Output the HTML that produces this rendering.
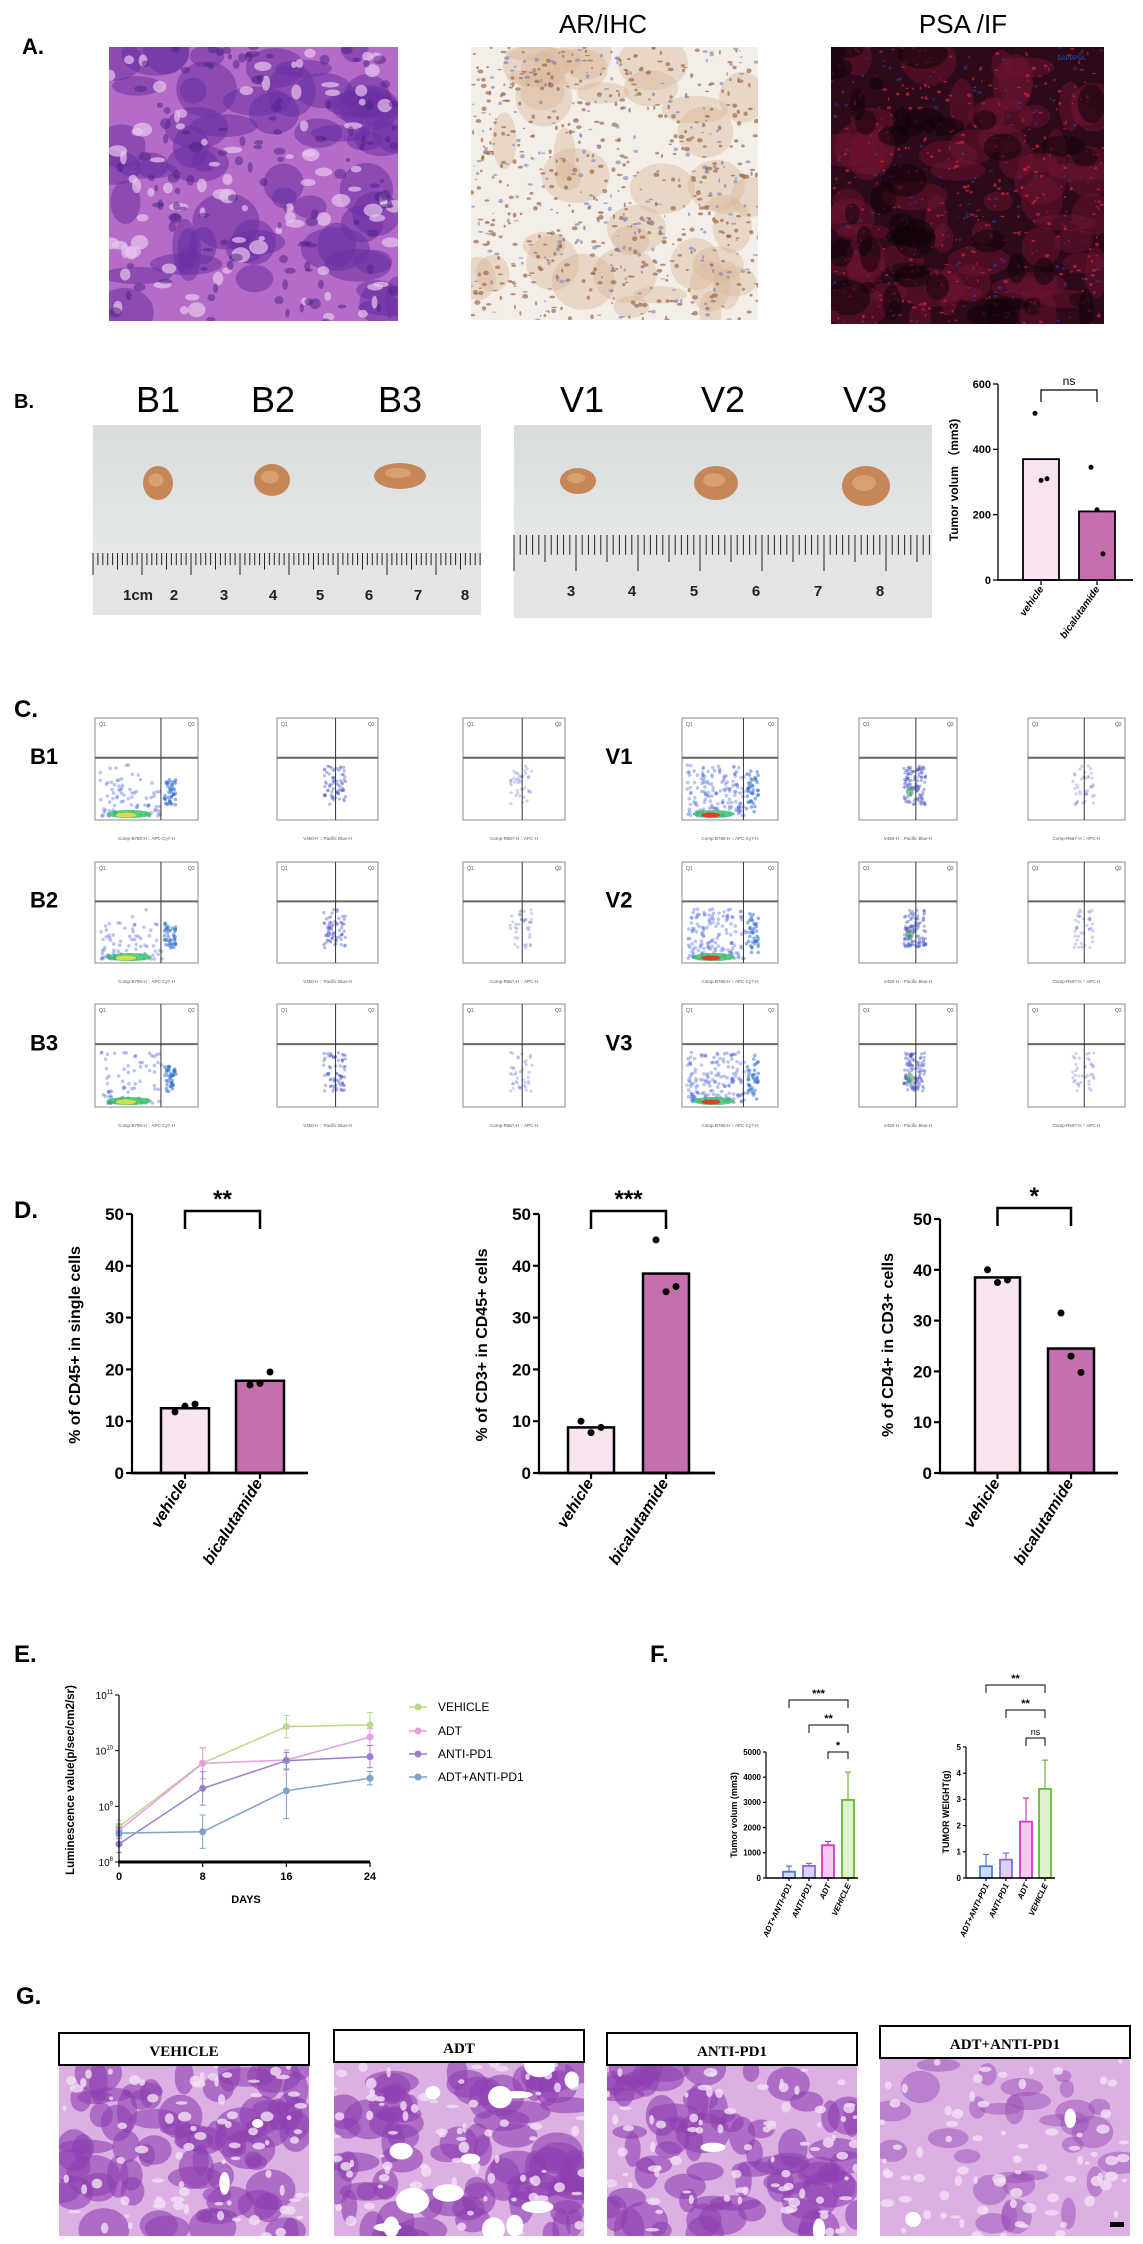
<!DOCTYPE html>
<html><head><meta charset="utf-8">
<style>
html,body{margin:0;padding:0;background:#fff;}
svg{display:block;}
text{font-family:"Liberation Sans",sans-serif;}
.nar{font-family:"Liberation Sans Narrow","Liberation Sans",sans-serif;}
.ser{font-family:"Liberation Serif",serif;}
</style></head>
<body>
<svg id="fig" width="1143" height="2244" viewBox="0 0 1143 2244" xmlns="http://www.w3.org/2000/svg">
<defs>
<linearGradient id="photoBg" x1="0" y1="0" x2="0" y2="1"><stop offset="0" stop-color="#d9dcdd"/><stop offset="1" stop-color="#eceeee"/></linearGradient>
</defs>
<!-- panel labels -->
<text x="22" y="54" font-size="22" font-weight="bold">A.</text>
<text x="14" y="408" font-size="20" font-weight="bold">B.</text>
<text x="14" y="717" font-size="24" font-weight="bold">C.</text>
<text x="14" y="1218" font-size="24" font-weight="bold">D.</text>
<text x="14" y="1662" font-size="24" font-weight="bold">E.</text>
<text x="650" y="1662" font-size="24" font-weight="bold">F.</text>
<text x="16" y="2004" font-size="24" font-weight="bold">G.</text>
<text x="603" y="33" font-size="26" text-anchor="middle" class="nar">AR/IHC</text>
<text x="963" y="33" font-size="26" text-anchor="middle" class="nar">PSA /IF</text>
<g id="layer"></g>
</svg>
<script>
// ---------- chart data ----------
const bCats = ["vehicle","bicalutamide"];
const bBars = [370, 210];
const bPts = [[510,305,310],[345,215,80]];

const dCats = ["vehicle","bicalutamide"];
const d1Bars = [12.5, 17.8];
const d1Pts = [[11.8,12.9,13.3],[17.0,17.3,19.5]];
const d2Bars = [8.8, 38.5];
const d2Pts = [[10.0,7.8,8.8],[45.0,35.0,36.0]];
const d3Bars = [38.5, 24.5];
const d3Pts = [[40.0,37.5,38.0],[31.5,23.0,19.8]];
const dTicks = [0,10,20,30,40,50];

const eDays = [0,8,16,24];
const eSeries = ["VEHICLE","ADT","ANTI-PD1","ADT+ANTI-PD1"];
const eVehicle = [4.3e8, 6.0e9, 2.7e10, 2.9e10];
const eADT = [3.7e8, 5.9e9, 6.8e9, 1.75e10];
const eAnti = [2.1e8, 2.1e9, 6.6e9, 7.8e9];
const eCombo = [3.3e8, 3.5e8, 1.9e9, 3.2e9];
const eErrLog = [[0.12,0.28,0.2,0.22],[0.12,0.28,0.18,0.15],[0.15,0.3,0.15,0.2],[0.1,0.3,0.5,0.12]];

const fCats = ["ADT+ANTI-PD1","ANTI-PD1","ADT","VEHICLE"];
const fVol = [250, 480, 1300, 3100];
const fVolErr = [220, 100, 150, 1100];
const fWt = [0.45, 0.7, 2.15, 3.4];
const fWtErr = [0.45, 0.25, 0.9, 1.1];
const fVolTicks = [0,1000,2000,3000,4000,5000];
const fWtTicks = [0,1,2,3,4,5];

const NS='http://www.w3.org/2000/svg';
const L=document.getElementById('layer');
function mk(tag,attrs,parent){const e=document.createElementNS(NS,tag);for(const k in attrs)e.setAttribute(k,attrs[k]);(parent||L).appendChild(e);return e;}
let seed=12345;function rnd(){seed=(seed*16807)%2147483647;return seed/2147483647;}

// ---------- textures ----------
let clipId=0;
function tissue(name,x,y,w,h,base,layers){
  const g=mk('g',{});
  
  
  const id='c'+(clipId++);
  const cp=mk('clipPath',{id:id},g);mk('rect',{x:x,y:y,width:w,height:h},cp);
  const inner=mk('g',{'clip-path':'url(#'+id+')'},g);
  mk('rect',{x:x,y:y,width:w,height:h,fill:base},inner);
  layers.forEach(l=>{for(let i=0;i<l.n;i++){mk('ellipse',{cx:x+rnd()*w,cy:y+rnd()*h,rx:l.r*(0.4+rnd()),ry:l.r*(0.3+rnd()*0.8),fill:l.c,opacity:l.o,transform:''},inner);}});
  return g;
}
tissue('he-stain-image',109,47,289,274,'#b56bc8',[{n:60,c:'#6b2fa3',r:26,o:0.55},{n:90,c:'#e7c6ee',r:7,o:0.7},{n:120,c:'#4a1f86',r:5,o:0.5}]);
tissue('ar-ihc-image',471,47,287,273,'#f4eee9',[{n:40,c:'#d9b89c',r:26,o:0.45},{n:500,c:'#9b6b4c',r:2.2,o:0.7},{n:250,c:'#7d7fb8',r:2,o:0.6}]);
const psa=tissue('psa-if-image',831,47,273,277,'#2c0a1a',[{n:60,c:'#6e1230',r:25,o:0.5},{n:400,c:'#d02238',r:1.6,o:0.7},{n:200,c:'#3040b0',r:1.6,o:0.5},{n:40,c:'#0d0208',r:18,o:0.5}]);
let t=mk('text',{x:1085,y:60,'font-size':6,fill:'#3050d0','text-anchor':'end'});t.textContent='DAPI/PSA';


// G panels
const gNames=["VEHICLE","ADT","ANTI-PD1","ADT+ANTI-PD1"];
const gX=[59,334,607,880], gHead=[2033,2030,2033,2026];
gNames.forEach((n,i)=>{
  const w=250, hy=gHead[i], iy=hy+32;
  const blob = i===3?{n:30,c:'#9a4fb8',r:16,o:0.5}:{n:70,c:'#8e3fb0',r:20,o:0.6};
  tissue('he-image-'+n.toLowerCase(),gX[i],iy,w,2236-iy,'#dcb0e3',[blob,{n:80,c:'#f2e0f4',r:5,o:0.8},{n:i===1?14:2,c:'#ffffff',r:12,o:1}]);
  const hb=mk('rect',{x:gX[i],y:hy,width:w,height:32,fill:'#fff',stroke:'#000','stroke-width':2});
  
  const tx=mk('text',{x:gX[i]+w/2,y:hy+23,'font-size':15,'font-weight':'bold','text-anchor':'middle',class:'ser'});tx.textContent=n;
  
});
let sb=mk('rect',{x:1110,y:2222,width:14,height:5,fill:'#000'});


// ---------- photos B ----------
function photo(name,x,y,w,h,rY,rH,numY,nums,numX,mmStart,mm,tumors){
  const g=mk('g',{});
  mk('rect',{x:x,y:y,width:w,height:h,fill:'url(#photoBg)'},g);
  mk('rect',{x:x,y:rY,width:w,height:y+h-rY,fill:'#e4e4e2'},g);
  for(let k=0;x+mmStart+k*mm<x+w;k++){const xx=x+mmStart+k*mm;const len=k%10===0?rH:(k%5===0?rH*0.75:rH*0.55);mk('line',{x1:xx,x2:xx,y1:rY,y2:rY+len,stroke:'#222','stroke-width':1},g);}
  nums.forEach((s,i)=>{const tt=mk('text',{x:numX[i],y:numY,'font-size':15,'font-weight':'bold','text-anchor':'middle',fill:'#222',class:'nar'},g);tt.textContent=s;});
  tumors.forEach(tu=>{mk('ellipse',{cx:tu[0],cy:tu[1],rx:tu[2],ry:tu[3],fill:'#c68658'},g);mk('ellipse',{cx:tu[0]-2,cy:tu[1]-3,rx:tu[2]*0.5,ry:tu[3]*0.4,fill:'#dfa97c',opacity:0.7},g);});
}
photo('bicalutamide-tumor-photo',93,425,388,190,553,22,600,["1cm","2","3","4","5","6","7","8"],[138,174,224,273,320,369,418,465],0,4.9,[[158,483,15,17],[272,480,18,16],[400,476,26,13]]);
photo('vehicle-tumor-photo',514,425,418,193,535,36,596,["3","4","5","6","7","8"],[571,632,694,756,818,880],0,6.2,[[578,481,18,13],[716,483,22,17],[866,486,24,20]]);
[["B1",158],["B2",273],["B3",400],["V1",582],["V2",723],["V3",865]].forEach(a=>{
  const tt=mk('text',{x:a[1],y:412,'font-size':36,'text-anchor':'middle',class:'nar'});tt.textContent=a[0];
  
});

// ---------- generic bar chart ----------
function barChart(o){
  const g=mk('g',{});
  const yS=v=>o.y0-(v-o.ticks[0])/(o.ticks[o.ticks.length-1]-o.ticks[0])*(o.y0-o.yTop);
  // bars
  o.bars.forEach((v,i)=>{
    const r=mk('rect',{x:o.bx[i][0],y:yS(v),width:o.bx[i][1]-o.bx[i][0],height:o.y0-yS(v),fill:o.fills[i],stroke:o.strokes?o.strokes[i]:'#000','stroke-width':o.sw},g);
    
    if(o.errs){const cx=(o.bx[i][0]+o.bx[i][1])/2;const e=mk('path',{d:`M${cx},${yS(v)} V${yS(v+o.errs[i])} M${cx-3},${yS(v+o.errs[i])} H${cx+3}`,stroke:o.strokes[i],'stroke-width':1.2,fill:'none'},g);
      }
    if(o.pts){o.pts[i].forEach((p,j)=>{const cx=(o.bx[i][0]+o.bx[i][1])/2+(j-1)*o.jit;const c=mk('circle',{cx:cx,cy:yS(p),r:o.pr,fill:'#000'},g);
      });}
  });
  // axes
  const ya=mk('line',{x1:o.ax,x2:o.ax,y1:o.yTop,y2:o.y0,stroke:'#000','stroke-width':o.aw},g);
  
  const xa=mk('line',{x1:o.ax-o.aw/2,x2:o.axEnd,y1:o.y0,y2:o.y0,stroke:'#000','stroke-width':o.aw*1.3},g);
  
  o.ticks.forEach(tv=>{mk('line',{x1:o.ax-o.tl,x2:o.ax,y1:yS(tv),y2:yS(tv),stroke:'#000','stroke-width':o.aw},g);
    const tt=mk('text',{x:o.ax-o.tl-2,y:yS(tv)+o.tf*0.35,'font-size':o.tf,'font-weight':'bold','text-anchor':'end',class:'nar'},g);tt.textContent=tv;
    });
  o.cats.forEach((c,i)=>{const cx=(o.bx[i][0]+o.bx[i][1])/2;mk('line',{x1:cx,x2:cx,y1:o.y0,y2:o.y0+o.tl,stroke:'#000','stroke-width':o.aw},g);
    const tt=mk('text',{x:cx+3,y:o.y0+o.tl+4,'font-size':o.xf,'font-weight':'bold','font-style':'italic','text-anchor':'end',transform:`rotate(${o.rot} ${cx+3} ${o.y0+o.tl+4})`},g);tt.textContent=c;
    });
  const yl=mk('text',{x:o.ylx,y:o.yly,'font-size':o.ylf,'font-weight':'bold','text-anchor':'middle',transform:`rotate(-90 ${o.ylx} ${o.yly})`},g);yl.textContent=o.ylabel;
  
  (o.sig||[]).forEach(s=>{const x1=(o.bx[s.a][0]+o.bx[s.a][1])/2,x2=(o.bx[s.b][0]+o.bx[s.b][1])/2;
    const p=mk('path',{d:`M${x1},${s.y+s.d} V${s.y} H${x2} V${s.y+s.d}`,stroke:'#000','stroke-width':s.w,fill:'none'},g);
    
    const tt=mk('text',{x:(x1+x2)/2,y:s.y-s.gap,'font-size':s.f,'font-weight':s.txt==='ns'?'normal':'bold','text-anchor':'middle'},g);tt.textContent=s.txt;
    });
}
const pinkL='#f8e3f0', pinkD='#c56fae';
barChart({name:'tumor-volume-chart',cats:bCats,bars:bBars,pts:bPts,ticks:[0,200,400,600],y0:580,yTop:384,ax:998,axEnd:1133,bx:[[1023,1059],[1079,1115]],fills:[pinkL,pinkD],sw:1.8,aw:1.3,tl:5,tf:11,xf:10,rot:-55,jit:6,pr:2.5,ylx:958,yly:480,ylf:12,ylabel:'Tumor volum （mm3)',sig:[{a:0,b:1,y:390,d:12,w:1.2,f:12,txt:'ns',gap:5}]});
barChart({name:'cd45-chart',cats:dCats,bars:d1Bars,pts:d1Pts,ticks:dTicks,y0:1473,yTop:1214,ax:132,axEnd:308,bx:[[161,209],[236,284]],fills:[pinkL,pinkD],sw:2.5,aw:2.2,tl:6,tf:17,xf:16,rot:-58,jit:10,pr:3.5,ylx:80,yly:1345,ylf:16,ylabel:'% of CD45+ in single cells',sig:[{a:0,b:1,y:1211,d:18,w:2.5,f:24,txt:'**',gap:4}]});
barChart({name:'cd3-chart',cats:dCats,bars:d2Bars,pts:d2Pts,ticks:dTicks,y0:1473,yTop:1214,ax:539,axEnd:715,bx:[[568,614],[643,689]],fills:[pinkL,pinkD],sw:2.5,aw:2.2,tl:6,tf:17,xf:16,rot:-58,jit:10,pr:3.5,ylx:487,yly:1345,ylf:16,ylabel:'% of CD3+ in CD45+ cells',sig:[{a:0,b:1,y:1211,d:18,w:2.5,f:24,txt:'***',gap:4}]});
barChart({name:'cd4-chart',cats:dCats,bars:d3Bars,pts:d3Pts,ticks:dTicks,y0:1473,yTop:1219,ax:940,axEnd:1118,bx:[[975,1020],[1048,1094]],fills:[pinkL,pinkD],sw:2.5,aw:2.2,tl:6,tf:17,xf:16,rot:-58,jit:10,pr:3.5,ylx:893,yly:1345,ylf:16,ylabel:'% of CD4+ in CD3+ cells',sig:[{a:0,b:1,y:1208,d:18,w:2.5,f:24,txt:'*',gap:4}]});

const fFill=['rgba(90,140,220,0.3)','rgba(140,110,220,0.3)','rgba(220,80,210,0.3)','rgba(160,220,110,0.35)'];
const fStroke=['#4a7fd0','#8a6ad0','#d03ac0','#68b838'];
barChart({name:'f-tumor-volume-chart',cats:fCats,bars:fVol,errs:fVolErr,ticks:fVolTicks,y0:1878,yTop:1752,ax:766,axEnd:858,bx:[[783,795],[803,815],[822,834],[842,854]],fills:fFill,strokes:fStroke,sw:1.8,aw:1.2,tl:3,tf:8,xf:8,rot:-65,ylx:737,yly:1815,ylf:9,ylabel:'Tumor volum  (mm3)',sig:[{a:0,b:3,y:1700,d:8,w:1,f:11,txt:'***',gap:3},{a:1,b:3,y:1725,d:8,w:1,f:11,txt:'**',gap:3},{a:2,b:3,y:1752,d:7,w:1,f:11,txt:'*',gap:3}]});
barChart({name:'f-tumor-weight-chart',cats:fCats,bars:fWt,errs:fWtErr,ticks:fWtTicks,y0:1878,yTop:1747,ax:966,axEnd:1055,bx:[[980,992],[1000,1012],[1020,1032],[1039,1051]],fills:fFill,strokes:fStroke,sw:1.8,aw:1.2,tl:3,tf:8,xf:8,rot:-65,ylx:949,yly:1812,ylf:9,ylabel:'TUMOR WEIGHT(g)',sig:[{a:0,b:3,y:1685,d:8,w:1,f:11,txt:'**',gap:3},{a:1,b:3,y:1710,d:8,w:1,f:11,txt:'**',gap:3},{a:2,b:3,y:1738,d:8,w:1,f:9,txt:'ns',gap:3}]});

// ---------- E line chart ----------
(function(){
  const g=mk('g',{});
  const xS=d=>119+d/24*(370-119);
  const yS=v=>1862-(Math.log10(v)-8)/3*(1862-1695);
  const cols=['#b9d88a','#e79ee0','#9a7fd0','#7ea2cc'];
  const data=[eVehicle,eADT,eAnti,eCombo];
  data.forEach((s,k)=>{
    const pl=mk('polyline',{points:s.map((v,i)=>xS(eDays[i])+','+yS(v)).join(' '),fill:'none',stroke:cols[k],'stroke-width':1.5},g);
    
    s.forEach((v,i)=>{const x=xS(eDays[i]),lv=Math.log10(v),e=eErrLog[k][i];
      const eb=mk('path',{d:`M${x},${yS(Math.pow(10,lv-e))} V${yS(Math.pow(10,lv+e))} M${x-3},${yS(Math.pow(10,lv-e))} H${x+3} M${x-3},${yS(Math.pow(10,lv+e))} H${x+3}`,stroke:cols[k],'stroke-width':1,fill:'none'},g);
      
      const m=mk('circle',{cx:x,cy:yS(v),r:3.5,fill:cols[k]},g);
      });
  });
  const ya=mk('line',{x1:119,x2:119,y1:1695,y2:1862,stroke:'#000','stroke-width':1.2},g);
  
  const xa=mk('line',{x1:118,x2:370,y1:1862,y2:1862,stroke:'#000','stroke-width':3},g);
  
  [8,9,10,11].forEach(p=>{const y=yS(Math.pow(10,p));mk('line',{x1:115,x2:119,y1:y,y2:y,stroke:'#000'},g);
    const tt=mk('text',{x:113,y:y+4,'font-size':10,'text-anchor':'end',class:'nar'},g);tt.textContent='10';
    
    const sp=mk('tspan',{'font-size':6,dy:-5},tt);sp.textContent=p;});
  eDays.forEach(d=>{const x=xS(d);mk('line',{x1:x,x2:x,y1:1862,y2:1867,stroke:'#000','stroke-width':1.2},g);
    const tt=mk('text',{x:x,y:1880,'font-size':11,'font-weight':'bold','text-anchor':'middle',class:'nar'},g);tt.textContent=d;
    });
  const xl=mk('text',{x:246,y:1903,'font-size':11,'font-weight':'bold','text-anchor':'middle',class:'nar'},g);xl.textContent='DAYS';
  
  const yl=mk('text',{x:74,y:1780,'font-size':11.5,'font-weight':'bold','text-anchor':'middle',transform:'rotate(-90 74 1780)'},g);yl.textContent='Luminescence value(p/sec/cm2/sr)';
  
  const ly=[1707,1731,1754,1777];
  eSeries.forEach((n,k)=>{
    const le=mk('g',{},g);
    mk('line',{x1:409,x2:427,y1:ly[k],y2:ly[k],stroke:cols[k],'stroke-width':1.5},le);
    mk('circle',{cx:418,cy:ly[k],r:3.5,fill:cols[k]},le);
    const tt=mk('text',{x:438,y:ly[k]+4,'font-size':12,class:'nar'},le);tt.textContent=n;
  });
})();

// ---------- C flow plots ----------
const colX=[[95,198],[277,378],[463,565],[682,778],[859,957],[1028,1125]];
const rowY=[[718,820],[862,963],[1004,1107]];
const rowLab=[["B1","V1"],["B2","V2"],["B3","V3"]];
rowY.forEach((ry,r)=>{
  [0,1].forEach(s=>{const tt=mk('text',{x:s?619:44,y:(ry[0]+ry[1])/2-5,'font-size':22,'font-weight':'bold','text-anchor':'middle',class:'nar'});tt.textContent=rowLab[r][s];
    });
  colX.forEach((cx,c)=>{
    const g=mk('g',{});
    const x=cx[0],y=ry[0],w=cx[1]-cx[0],h=ry[1]-ry[0];
    const id='f'+r+'_'+c;const cp=mk('clipPath',{id:id},g);mk('rect',{x:x,y:y,width:w,height:h},cp);
    const inner=mk('g',{'clip-path':'url(#'+id+')'},g);
    const type=c%3, vehicle=c>=3;
    const vx=x+w*(type===0?0.64:0.58), hy=y+h*(type===0?0.39:0.39);
    if(type===0){
      const n=vehicle?160:90;
      for(let i=0;i<n;i++){mk('circle',{cx:x+5+rnd()*w*0.6,cy:y+h-4-Math.pow(rnd(),vehicle?1.4:2.2)*h*0.5,r:1.8,fill:'#3a5ad8',opacity:0.35},inner);}
      for(let i=0;i<40;i++){mk('circle',{cx:vx+3+rnd()*12,cy:y+h*0.6+rnd()*h*(vehicle?0.38:0.25)-(vehicle?h*0.15*rnd():0),r:1.8,fill:'#2a6ad0',opacity:0.5},inner);}
      mk('ellipse',{cx:x+w*0.33,cy:y+h-6,rx:w*0.22,ry:4,fill:'#30c060',opacity:0.8},inner);
      mk('ellipse',{cx:x+w*0.3,cy:y+h-5,rx:w*0.1,ry:2.5,fill:vehicle?'#f03020':'#e8e040',opacity:0.9},inner);
    } else {
      const n=type===1?(vehicle?110:70):40, cyc=y+h*0.72;
      for(let i=0;i<n;i++){mk('circle',{cx:vx-12+rnd()*22,cy:cyc-h*0.25+rnd()*h*0.38,r:1.6,fill:'#4050c8',opacity:type===1?0.4:0.25},inner);}
      if(type===1&&vehicle)mk('ellipse',{cx:vx-6,cy:cyc,rx:4,ry:5,fill:'#40a060',opacity:0.6},inner);
    }
    mk('rect',{x:x,y:y,width:w,height:h,fill:'none',stroke:'#888','stroke-width':1},g);
    mk('line',{x1:x,x2:x+w,y1:hy,y2:hy,stroke:'#666','stroke-width':2},g);
    mk('line',{x1:vx,x2:vx,y1:y,y2:y+h,stroke:'#333','stroke-width':1},g);
    const lab=mk('text',{x:x+w/2,y:y+h+20,'font-size':4.5,'text-anchor':'middle',fill:'#555'},g);
    lab.textContent=type===0?'Comp-B780-H :: APC-Cy7-H':(type===1?'V450-H :: Pacific Blue-H':'Comp-R667-H :: APC-H');
    const q1=mk('text',{x:x+4,y:y+8,'font-size':5,fill:'#555'},g);q1.textContent='Q1';
    const q2=mk('text',{x:x+w-10,y:y+8,'font-size':5,fill:'#555'},g);q2.textContent='Q2';
  });
});
</script>
</body></html>
